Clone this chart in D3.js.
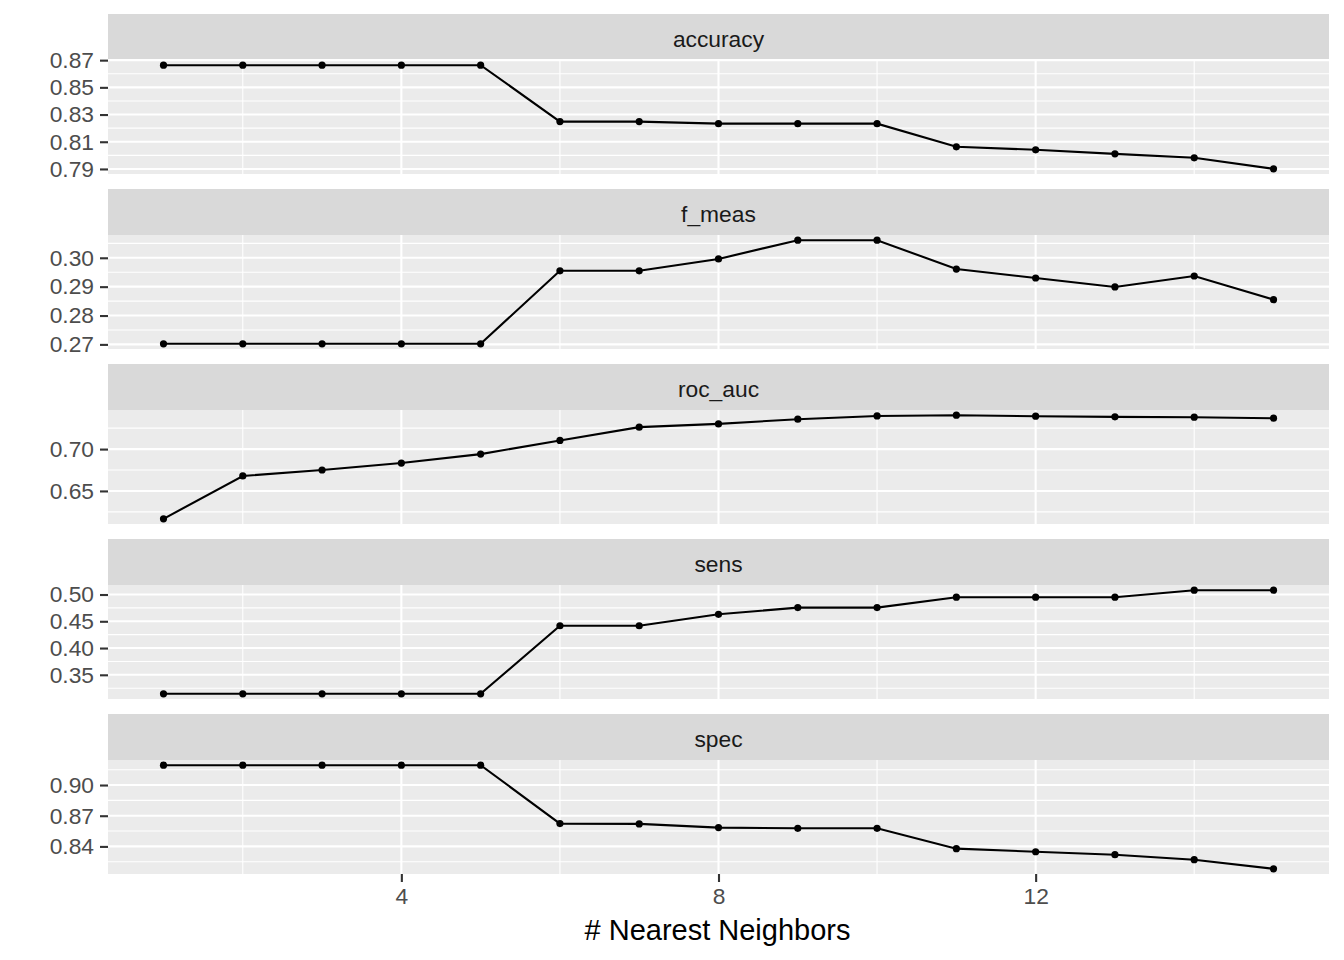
<!DOCTYPE html>
<html>
<head>
<meta charset="utf-8">
<script src="https://cdn.jsdelivr.net/npm/d3@7"></script>
<style>
  body { margin: 0; background: #fff; }
  svg { display: block; font-family: "Liberation Sans", Arial, sans-serif; }
</style>
</head>
<body>
<svg id="chart" width="1344" height="960"></svg>
<script>
// number of nearest neighbours (x values)
let neighbors = [1, 2, 3, 4, 5, 6, 7, 8, 9, 10, 11, 12, 13, 14, 15];

// metric values
let accuracy = [0.8663, 0.8663, 0.8663, 0.8663, 0.8663, 0.8248, 0.8248, 0.8233, 0.8233, 0.8233, 0.8063, 0.8041, 0.8011, 0.7982, 0.7901];
let f_meas   = [0.2702, 0.2702, 0.2702, 0.2702, 0.2702, 0.2955, 0.2955, 0.2996, 0.3061, 0.3061, 0.2961, 0.2930, 0.2899, 0.2937, 0.2855];
let roc_auc  = [0.6167, 0.6679, 0.6750, 0.6833, 0.6940, 0.7103, 0.7262, 0.7301, 0.7357, 0.7396, 0.7405, 0.7393, 0.7385, 0.7381, 0.7369];
let sens     = [0.3145, 0.3145, 0.3145, 0.3145, 0.3145, 0.4417, 0.4417, 0.4630, 0.4756, 0.4756, 0.4950, 0.4950, 0.4950, 0.5081, 0.5081];
let spec     = [0.9194, 0.9194, 0.9194, 0.9194, 0.9194, 0.8623, 0.8620, 0.8584, 0.8577, 0.8577, 0.8378, 0.8348, 0.8319, 0.8270, 0.8181];

// tick labels per facet
let metricNames = ["accuracy", "f_meas", "roc_auc", "sens", "spec"];
let accuracyTicks = [0.79, 0.81, 0.83, 0.85, 0.87];
let fmeasTicks = [0.27, 0.28, 0.29, 0.30];
let rocTicks = [0.65, 0.70];
let sensTicks = [0.35, 0.40, 0.45, 0.50];
let specTicks = [0.84, 0.87, 0.90];
let xTicks = [4, 8, 12];
let xMinor = [2, 6, 10, 14];

let metricValues = [accuracy, f_meas, roc_auc, sens, spec];
let metricTicks = [accuracyTicks, fmeasTicks, rocTicks, sensTicks, specTicks];

// layout
let left = 108, right = 1329;
let firstTop = 14, stripH = 46, panelH = 114, pitch = 175;
let axisFont = "22.8px";

let svg = d3.select("#chart");

let x = d3.scaleLinear()
  .domain([1 - 0.05 * 14, 15 + 0.05 * 14])
  .range([left, right]);

metricNames.forEach((name, i) => {
  let values = metricValues[i];
  let ticks = metricTicks[i];
  let stripTop = firstTop + i * pitch;
  let top = stripTop + stripH;
  let bottom = top + panelH;

  // free y scale with 5% expansion like ggplot
  let [lo, hi] = d3.extent(values);
  let pad = (hi - lo) * 0.05;
  let y = d3.scaleLinear().domain([lo - pad, hi + pad]).range([bottom, top]);

  // minor breaks sit half way between the major ones
  let step = ticks[1] - ticks[0];
  let minor = [ticks[0] - step / 2].concat(ticks.map(t => t + step / 2))
    .filter(m => m >= y.domain()[0] && m <= y.domain()[1]);

  let g = svg.append("g");

  // strip
  g.append("rect")
    .attr("x", left).attr("y", stripTop)
    .attr("width", right - left).attr("height", stripH)
    .attr("fill", "#D9D9D9");
  g.append("text")
    .attr("x", (left + right) / 2).attr("y", stripTop + 33)
    .attr("text-anchor", "middle")
    .attr("font-size", axisFont)
    .attr("fill", "#1A1A1A")
    .text(name);

  // panel background
  g.append("rect")
    .attr("x", left).attr("y", top)
    .attr("width", right - left).attr("height", panelH)
    .attr("fill", "#EBEBEB");

  // grid lines
  g.selectAll(".hminor").data(minor).join("line")
    .attr("x1", left).attr("x2", right)
    .attr("y1", d => y(d)).attr("y2", d => y(d))
    .attr("stroke", "#fff").attr("stroke-width", 1.1);
  g.selectAll(".vminor").data(xMinor).join("line")
    .attr("x1", d => x(d)).attr("x2", d => x(d))
    .attr("y1", top).attr("y2", bottom)
    .attr("stroke", "#fff").attr("stroke-width", 1.1);
  g.selectAll(".hmajor").data(ticks).join("line")
    .attr("x1", left).attr("x2", right)
    .attr("y1", d => y(d)).attr("y2", d => y(d))
    .attr("stroke", "#fff").attr("stroke-width", 2.1);
  g.selectAll(".vmajor").data(xTicks).join("line")
    .attr("x1", d => x(d)).attr("x2", d => x(d))
    .attr("y1", top).attr("y2", bottom)
    .attr("stroke", "#fff").attr("stroke-width", 2.1);

  // line and points
  let pts = neighbors.map((n, j) => [n, values[j]]);
  let line = d3.line().x(d => x(d[0])).y(d => y(d[1]));
  g.append("path")
    .attr("d", line(pts))
    .attr("fill", "none")
    .attr("stroke", "#000")
    .attr("stroke-width", 2.1);
  g.selectAll(".pt").data(pts).join("circle")
    .attr("cx", d => x(d[0])).attr("cy", d => y(d[1]))
    .attr("r", 3.6)
    .attr("fill", "#000");

  // y axis
  let yAxis = g.append("g")
    .attr("transform", `translate(${left},0)`)
    .call(d3.axisLeft(y).tickValues(ticks).tickFormat(d3.format(".2f"))
      .tickSize(8).tickPadding(6).tickSizeOuter(0));
  yAxis.select(".domain").remove();
  yAxis.selectAll("line").attr("stroke", "#333333").attr("stroke-width", 2.1);
  yAxis.selectAll("text")
    .attr("fill", "#4D4D4D")
    .style("font-size", axisFont)
    .style("font-family", "'Liberation Sans', Arial, sans-serif");

  // x axis only under the last facet
  if (i === metricNames.length - 1) {
    let xAxis = g.append("g")
      .attr("transform", `translate(0,${bottom})`)
      .call(d3.axisBottom(x).tickValues(xTicks).tickSize(8).tickPadding(6).tickSizeOuter(0));
    xAxis.select(".domain").remove();
    xAxis.selectAll("line").attr("stroke", "#333333").attr("stroke-width", 2.1);
    xAxis.selectAll("text")
      .attr("fill", "#4D4D4D")
      .style("font-size", axisFont)
      .style("font-family", "'Liberation Sans', Arial, sans-serif");

    svg.append("text")
      .attr("x", (left + right) / 2 - 1).attr("y", bottom + 66)
      .attr("text-anchor", "middle")
      .attr("font-size", "29px")
      .attr("fill", "#000")
      .text("# Nearest Neighbors");
  }
});
</script>
</body>
</html>
